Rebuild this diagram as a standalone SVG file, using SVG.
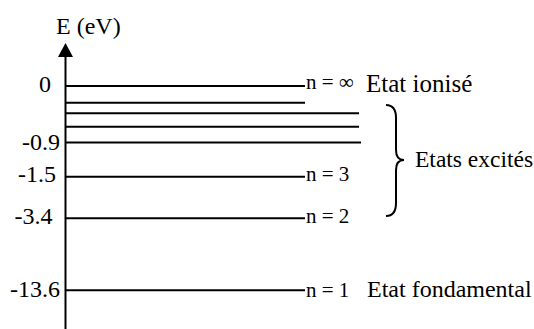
<svg xmlns="http://www.w3.org/2000/svg" width="534" height="329" viewBox="0 0 534 329">
<style>
text{font-family:"Liberation Serif","Times New Roman",serif;fill:#000;font-size:24px}
.n{font-size:21px}
.r{text-anchor:end}
.lv{stroke:#000;stroke-width:2;fill:none}
</style>
<rect width="534" height="329" fill="#fff"/>
<g id="axis">
<line x1="65.5" y1="56" x2="65.5" y2="329" class="lv"/>
<polygon points="58,57 73,57 65.5,43" fill="#000"/>
<text x="56" y="34">E (eV)</text>
</g>
<g id="connectors">
<line x1="66" y1="86" x2="305" y2="86" class="lv"/>
<line x1="66" y1="102.7" x2="305" y2="102.7" class="lv"/>
<line x1="66" y1="113.3" x2="359" y2="113.3" class="lv"/>
<line x1="66" y1="126.7" x2="359" y2="126.7" class="lv"/>
<line x1="66" y1="142.5" x2="361" y2="142.5" class="lv"/>
<line x1="66" y1="176.7" x2="305" y2="176.7" class="lv"/>
<line x1="66" y1="218.3" x2="305" y2="218.3" class="lv"/>
<line x1="66" y1="290.3" x2="305" y2="290.3" class="lv"/>
</g>
<g id="level-0"><text x="51" y="92" class="r">0</text><text x="306" y="89" class="n">n = ∞</text><text x="366" y="92" style="font-size:25px">Etat ionisé</text></g>
<g id="level-09"><text x="60" y="150" class="r">-0.9</text></g>
<g id="level-15"><text x="56" y="182" class="r">-1.5</text><text x="306" y="181" class="n">n = 3</text></g>
<g id="level-34"><text x="52.5" y="224" class="r">-3.4</text><text x="306" y="223" class="n">n = 2</text></g>
<g id="level-136"><text x="60" y="297" class="r">-13.6</text><text x="306" y="297" class="n">n = 1</text><text x="367" y="297">Etat fondamental</text></g>
<g id="excited">
<path d="M386,105 Q396,105 396,118 L396,150 Q396,160 404,160 Q396,160 396,170 L396,203 Q396,216 386,216" class="lv" stroke-width="1.8"/>
<text x="415" y="167" style="font-size:23.5px">Etats excités</text>
</g>
</svg>
